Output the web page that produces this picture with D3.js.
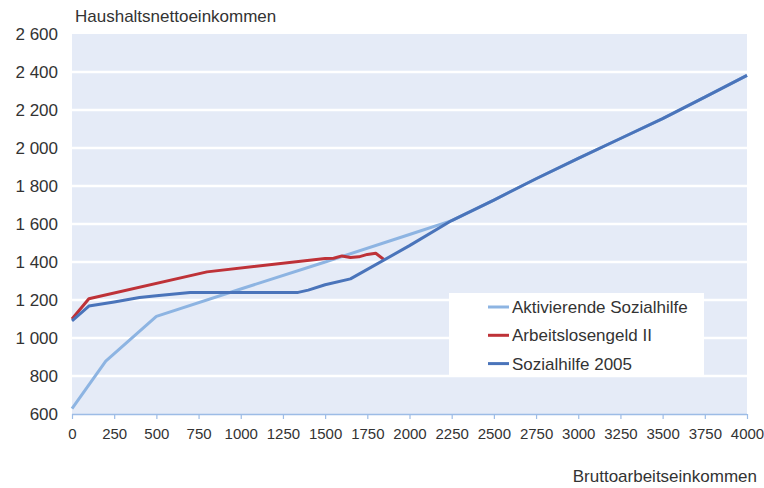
<!DOCTYPE html>
<html><head><meta charset="utf-8">
<script src="https://cdn.jsdelivr.net/npm/d3@7"></script>
<style>body{margin:0;background:#fff;} svg{display:block;font-family:"Liberation Sans",Arial,sans-serif;}</style>
</head><body><svg id="c" width="764" height="488"></svg>
<script>
const seriesNames = ["Aktivierende Sozialhilfe", "Arbeitslosengeld II", "Sozialhilfe 2005"];
const seriesColors = ["#8DB4E2", "#BE3238", "#4A74BA"];
const aktivX = [0, 200, 500, 1000, 1500, 2000, 2250, 2500, 2750, 3000, 3250, 3500, 3750, 4000];
const aktivY = [628, 878, 1114, 1258, 1400, 1545, 1618, 1726, 1838, 1945, 2050, 2155, 2268, 2382];
const algX = [0, 100, 800, 1500, 1550, 1600, 1650, 1700, 1750, 1800, 1850];
const algY = [1100, 1207, 1348, 1418, 1420, 1432, 1424, 1427, 1440, 1446, 1412];
const sozX = [0, 100, 250, 400, 500, 700, 1340, 1400, 1500, 1650, 2000, 2250, 2500, 2750, 3000, 3250, 3500, 3750, 4000];
const sozY = [1090, 1168, 1190, 1213, 1222, 1240, 1240, 1252, 1280, 1311, 1486, 1618, 1726, 1838, 1945, 2050, 2155, 2268, 2382];
const xTicks = [0, 250, 500, 750, 1000, 1250, 1500, 1750, 2000, 2250, 2500, 2750, 3000, 3250, 3500, 3750, 4000];
const yTicks = [600, 800, 1000, 1200, 1400, 1600, 1800, 2000, 2200, 2400, 2600];
const yTitle = "Haushaltsnettoeinkommen";
const xTitle = "Bruttoarbeitseinkommen";

const svg = d3.select("#c");
const L = 72, R = 747, T = 34, B = 414;
const x = d3.scaleLinear().domain([0, 4000]).range([L, R]);
const y = d3.scaleLinear().domain([600, 2600]).range([B, T]);

svg.append("rect").attr("x", L).attr("y", T).attr("width", R - L).attr("height", B - T).attr("fill", "#E5EBF7");
svg.append("g").selectAll("line").data(yTicks.filter(v => v > 600 && v < 2600)).join("line")
  .attr("x1", L).attr("x2", R).attr("y1", d => y(d)).attr("y2", d => y(d))
  .attr("stroke", "#fff").attr("stroke-width", 2.6);

// y axis labels
const ya = svg.append("g").attr("transform", `translate(${L},0)`)
  .call(d3.axisLeft(y).tickValues(yTicks).tickSize(0).tickPadding(14)
    .tickFormat(d => d3.format(",")(d).replace(",", " ")));
ya.select(".domain").remove();
ya.selectAll("text").attr("font-size", 17).attr("fill", "#333").attr("font-family", "Liberation Sans, Arial, sans-serif");

// x axis
const xa = svg.append("g").attr("transform", `translate(0,${B})`)
  .call(d3.axisBottom(x).tickValues(xTicks).tickSize(5).tickPadding(9).tickFormat(d3.format("d")));
xa.select(".domain").attr("stroke", "#9DBCE6").attr("stroke-width", 1.5).attr("d", `M${L},0.5H${R}`);
xa.selectAll(".tick line").attr("stroke", "#9DBCE6").attr("stroke-width", 1.2);
xa.selectAll("text").attr("font-size", 15).attr("fill", "#333").attr("font-family", "Liberation Sans, Arial, sans-serif");

// lines
const line = d3.line().x(d => x(d[0])).y(d => y(d[1]));
const data = [d3.zip(aktivX, aktivY), d3.zip(algX, algY), d3.zip(sozX, sozY)];
data.forEach((pts, i) => {
  svg.append("path").attr("d", line(pts)).attr("fill", "none")
    .attr("stroke", seriesColors[i]).attr("stroke-width", 3).attr("stroke-linejoin", "round");
});

// titles
svg.append("text").attr("x", 75).attr("y", 22).attr("font-size", 17).attr("fill", "#333").text(yTitle);
svg.append("text").attr("x", 757).attr("y", 482).attr("text-anchor", "end").attr("font-size", 17).attr("fill", "#333").text(xTitle);

// legend
const lg = svg.append("g");
lg.append("rect").attr("x", 449).attr("y", 293).attr("width", 255).attr("height", 84).attr("fill", "#fff");
seriesNames.forEach((n, i) => {
  const cy = 307 + i * 28.3;
  lg.append("line").attr("x1", 488).attr("x2", 509).attr("y1", cy).attr("y2", cy)
    .attr("stroke", seriesColors[i]).attr("stroke-width", 3);
  lg.append("text").attr("x", 512).attr("y", cy + 6).attr("font-size", 17).attr("fill", "#333").text(n);
});
</script></body></html>
